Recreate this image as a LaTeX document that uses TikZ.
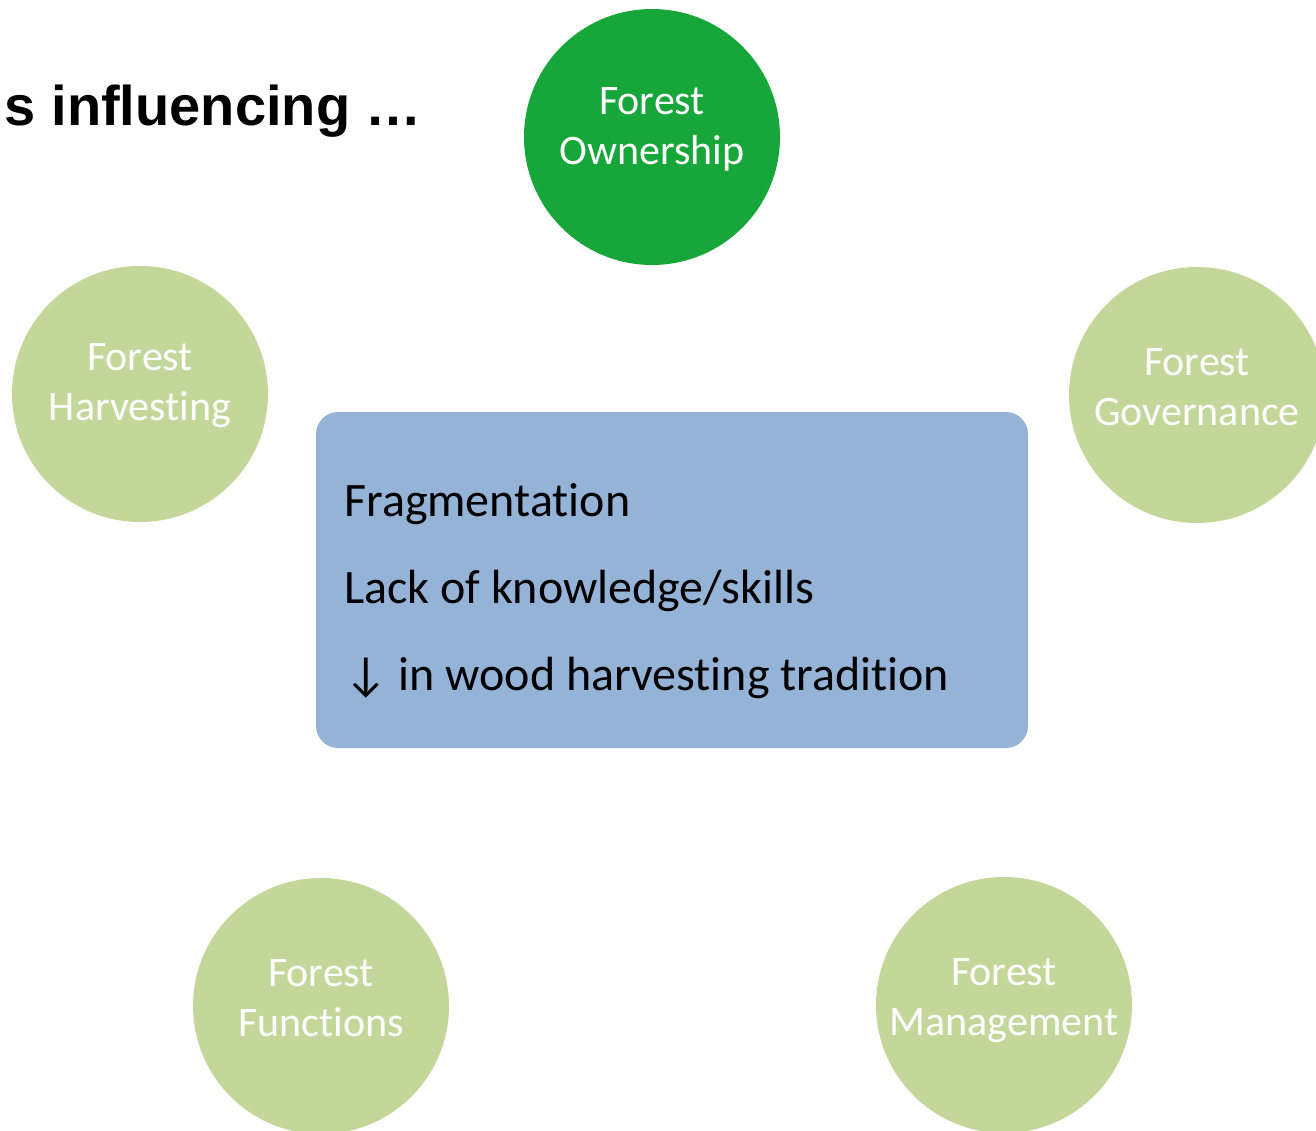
\documentclass[tikz,border=0pt]{standalone}
\usepackage{fontspec}
\setmainfont{Carlito}[Ligatures=NoCommon]
\newfontfamily\titlefont{Liberation Sans}
\definecolor{owngreen}{RGB}{22,166,57}
\definecolor{palegreen}{RGB}{196,215,155}
\definecolor{boxblue}{RGB}{149,179,215}
\tikzset{
  topic/.style={circle, minimum size=256pt, inner sep=0pt, fill=palegreen},
  topiclbl/.style={text=white, align=center, inner sep=0pt, font=\fontsize{42}{50}\selectfont, yshift=8pt},
  boxline/.style={anchor=base west, inner sep=0pt, font=\fontsize{48}{56}\selectfont}
}
\begin{document}
\begin{tikzpicture}[x=1pt,y=-1pt]
	\useasboundingbox (0,0) rectangle (1316,1131);
	\clip (0,0) rectangle (1316,1131);
	%	title
	\node[anchor=base east, inner sep=0pt, font=\titlefont\bfseries\fontsize{56}{64}\selectfont] (title) at (422,126) {s influencing …};
	%	central box
	\node[fill=boxblue, rounded corners=22pt, minimum width=712pt, minimum height=336pt, inner sep=0pt] (core) at (672,580) {};
	\node[boxline] (frag) at (344,516) {Fragmentation};
	\node[boxline] (lack) at (344,603) {Lack of knowledge/skills};
	\node[boxline] (trad) at (344,690) {↓ in wood harvesting tradition};
	%	circles
	\node[topic, fill=owngreen] (own) at (652,137) {};
	\node[topic] (harv) at (140,394) {};
	\node[topic] (gov) at (1197,395) {};
	\node[topic] (func) at (321,1006) {};
	\node[topic] (mgmt) at (1004,1005) {};
	\node[topiclbl] (ownlbl) at (own) {Forest\\Ownership};
	\node[topiclbl] (harvlbl) at (harv) {Forest\\Harvesting};
	\node[topiclbl] (govlbl) at (gov) {Forest\\Governance};
	\node[topiclbl] (funclbl) at (func) {Forest\\Functions};
	\node[topiclbl, yshift=-4pt] (mgmtlbl) at (mgmt) {Forest\\Management};
\end{tikzpicture}
\end{document}
